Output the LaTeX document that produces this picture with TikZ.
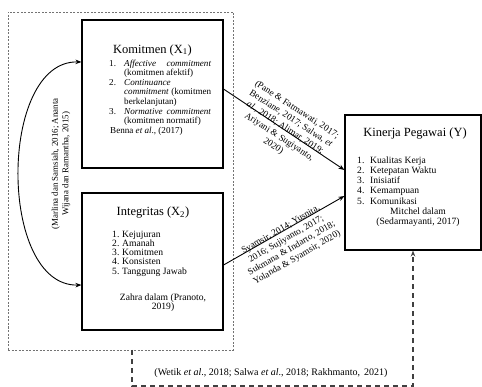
\documentclass[tikz,border=0pt]{standalone}
\usepackage{fontspec}
\setmainfont{Liberation Serif}
\usetikzlibrary{arrows.meta}
\begin{document}
\begin{tikzpicture}[x=1pt,y=-1pt,
  mainbox/.style={draw=black, line width=1.1pt, inner sep=0pt},
  titletext/.style={font=\fontsize{12.5}{15}\selectfont, inner sep=0pt},
  listtext/.style={font=\fontsize{9.6}{9.6}\selectfont, align=left, inner sep=0pt, anchor=north west},
  reftext/.style={font=\fontsize{9.6}{10}\selectfont, align=center, inner sep=0pt},
  slanttext/.style={font=\fontsize{9.3}{10.8}\selectfont, align=center, inner sep=0pt},
  arr/.style={-{Stealth[length=6pt,width=4.5pt]}, line width=0.9pt},
  outerdash/.style={draw=black!55, dash pattern=on 2pt off 1.5pt, line width=0.7pt, inner sep=0pt},
  fbline/.style={draw=black!75, dash pattern=on 5pt off 4pt, line width=1.2pt}]
\useasboundingbox (0,0) rectangle (482,387);

% outer dashed frame
\node[outerdash, minimum width=225pt, minimum height=338pt] (outer) at (120.5,181) {};

% boxes
\node[mainbox, minimum width=141pt, minimum height=148pt] (kom) at (152.5,94) {};
\node[mainbox, minimum width=141pt, minimum height=137pt] (int) at (152.5,261.5) {};
\node[mainbox, minimum width=136pt, minimum height=135pt] (kin) at (413,182.5) {};

% Komitmen content
\node[titletext] (komtitle) at (152.5,50) {Komitmen (X\textsubscript{1})};
\node[listtext, font=\fontsize{9.1}{9.6}\selectfont] (komlist) at (109,59.5) {%
\makebox[15pt][l]{1.}\makebox[87pt][s]{\textit{Affective}\hfill\textit{commitment}}\\
\hspace*{15pt}(komitmen afektif)\\
\makebox[15pt][l]{2.}\textit{Continuance}\\
\hspace*{15pt}\makebox[87pt][s]{\textit{commitment}\hfill(komitmen}\\
\hspace*{15pt}berkelanjutan)\\
\makebox[15pt][l]{3.}\makebox[87pt][s]{\textit{Normative}\hfill\textit{commitment}}\\
\hspace*{15pt}(komitmen normatif)\\
\hspace*{1pt}Benna \textit{et al}., (2017)};

% Integritas content
\node[titletext] (inttitle) at (153,213) {Integritas (X\textsubscript{2})};
\node[listtext, font=\fontsize{9.6}{9.3}\selectfont] (intlist) at (112,230.5) {%
\makebox[10pt][l]{1.}Kejujuran\\
\makebox[10pt][l]{2.}Amanah\\
\makebox[10pt][l]{3.}Komitmen\\
\makebox[10pt][l]{4.}Konsisten\\
\makebox[10pt][l]{5.}Tanggung Jawab};
\node[reftext, font=\fontsize{9.6}{9.5}\selectfont] (intref) at (163,302.5) {Zahra dalam (Pranoto,\\2019)};

% Kinerja content
\node[titletext] (kintitle) at (415,134) {Kinerja Pegawai (Y)};
\node[listtext, font=\fontsize{9.6}{10.2}\selectfont] (kinlist) at (357,156.5) {%
\makebox[13pt][l]{1.}Kualitas Kerja\\
\makebox[13pt][l]{2.}Ketepatan Waktu\\
\makebox[13pt][l]{3.}Inisiatif\\
\makebox[13pt][l]{4.}Kemampuan\\
\makebox[13pt][l]{5.}Komunikasi};
\node[reftext] (kinref) at (418,217) {Mitchel dalam\\(Sedarmayanti, 2017)};

% arrows to Kinerja
\draw[arr] ([yshift=5pt]kom.east) -- ([yshift=12.5pt]kin.west);
\draw[arr] ([yshift=-3.5pt]int.east) -- ([yshift=-13.5pt]kin.west);

% arrow labels
\node[slanttext, rotate=-33] (lab1) at (285,128) {(Pane \& Fatmawati, 2017;\\Benziane, 2017; Salwa, \textit{et}\\\textit{al}., 2018; Alimar, 2019;\\Ariyani \& Sugiyanto,\\2020)};
\node[slanttext, rotate=30] (lab2) at (289,244) {Syamsir, 2014; Yusnita,\\2016; Sujiyanto, 2017;\\Sukmana \& Indarto, 2018;\\Yolanda \& Syamsir, 2020)};

% curved double arrow on the left
\draw[{Stealth[length=6pt,width=4.5pt]}-{Stealth[length=6pt,width=4.5pt]}, line width=0.9pt]
  ([yshift=-23.5pt]int.west) .. controls (-2,287) and (-2,60) .. ([yshift=32pt]kom.west);
\node[reftext, font=\fontsize{8.9}{10.5}\selectfont, rotate=90] (leftlab) at (61,164) {(Marlina dan Samsiah, 2016; Ananta\\Wijana dan Ramantha, 2015)};

% feedback dashed loop
\coordinate (fbstart) at (132,350);
\coordinate (fbcorner) at (132,386);
\draw[fbline, -{Stealth[length=6pt,width=4.5pt]}] (fbstart) -- (fbcorner) -| (kin.south);
\node[reftext, font=\fontsize{10}{10}\selectfont] (fblab) at (271,373) {(Wetik \textit{et al}., 2018; Salwa \textit{et al}., 2018; Rakhmanto,\, 2021)};
\end{tikzpicture}
\end{document}
